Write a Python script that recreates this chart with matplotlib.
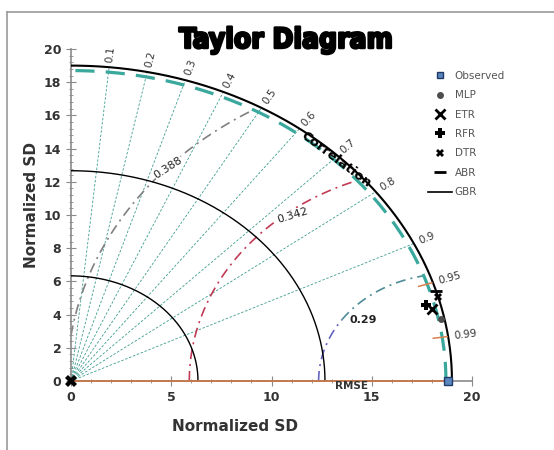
import numpy as np
import matplotlib.pyplot as plt
from matplotlib.lines import Line2D
from matplotlib.ticker import MultipleLocator
from matplotlib import font_manager
import matplotlib.patheffects as pe

# valores
obs_sd = 18.8
sd_arcs = [19 / 3, 2 * 19 / 3, 19.0]
teal_arc = 18.7
corr_lines = [0.1, 0.2, 0.3, 0.4, 0.5, 0.6, 0.7, 0.8, 0.9]
corr_labels = [0.1, 0.2, 0.3, 0.4, 0.5, 0.6, 0.7, 0.8, 0.9, 0.95, 0.99]
corr_marks = [0.95, 0.99]

rmse_names = ['0.29', '0.342', '0.388']
rmse_radius = [6.45, 12.9, 19.0]

models = ['MLP', 'ETR', 'RFR', 'DTR', 'ABR']
model_sd = [18.82, 18.50, 18.28, 18.98, 18.99]
model_corr = [0.980, 0.972, 0.968, 0.9635, 0.958]
origin_sd = [0.0]

fig = plt.figure(figsize=(5.54, 4.5), dpi=100)
ax = fig.add_axes([71 / 554, 69 / 450, 401 / 554, 332 / 450])
ax.set_xlim(0, 20)
ax.set_ylim(0, 20)

# moldura cinza da área do gráfico
fig.add_artist(Line2D([7 / 554, 1], [1 - 12 / 450, 1 - 12 / 450], color='#9a9a9a', lw=1.2, transform=fig.transFigure))
fig.add_artist(Line2D([7 / 554, 7 / 554], [0, 1 - 12 / 450], color='#9a9a9a', lw=1.2, transform=fig.transFigure))

th = np.linspace(0, np.pi / 2, 300)

# linhas de correlação
for c in corr_lines:
    a = np.arccos(c)
    ax.plot([0, 19 * np.cos(a)], [0, 19 * np.sin(a)], color='#3d9c8f', lw=0.6, dashes=(3, 2), zorder=2)

# arcos de desvio padrão
for i, r in enumerate(sd_arcs):
    ax.plot(r * np.cos(th), r * np.sin(th), color='black', lw=1.5 if i == 2 else 1.0, zorder=3)
ax.plot(teal_arc * np.cos(th), teal_arc * np.sin(th), color='#3aa89c', lw=2.3, dashes=(6, 3.5), zorder=3)

# arcos de RMSE, centrados no observado
rmse_colors = [('#6464bf', '#4f8c97'), ('#c23a55', '#c23a55'), ('#808080', '#808080')]
for r, (c1, c2) in zip(rmse_radius, rmse_colors):
    xi = (teal_arc ** 2 + obs_sd ** 2 - r ** 2) / (2 * obs_sd)
    yi = np.sqrt(max(teal_arc ** 2 - xi ** 2, 0))
    a_end = np.arctan2(yi, xi - obs_sd)
    a_start = np.pi
    if obs_sd - r < 0:
        a_start = np.pi - np.arccos(obs_sd / r)
    a_mid = np.radians(145) if r < 8 else a_start
    seg1 = np.linspace(a_start, a_mid, 60)
    seg2 = np.linspace(a_mid, a_end, 200)
    for seg, col in [(seg1, c1), (seg2, c2)]:
        ax.plot(obs_sd + r * np.cos(seg), r * np.sin(seg), color=col, lw=1.2,
                dashes=(6, 3, 1.2, 3), zorder=2)

ax.text(4.85, 12.85, rmse_names[2], rotation=33, fontsize=8, color='#222', ha='center', va='center',
        bbox=dict(fc='white', ec='none', pad=0.3), zorder=4)
ax.text(11.05, 9.97, rmse_names[1], rotation=17, fontsize=8, color='#222', ha='center', va='center',
        bbox=dict(fc='white', ec='none', pad=0.3), zorder=4)
ax.text(14.6, 3.65, rmse_names[0], fontsize=8, color='#222', fontweight='bold', ha='center', va='center', zorder=4)
ax.text(14.0, -0.28, 'RMSE', fontsize=7.5, color='#333', fontweight='bold', ha='center', va='center', zorder=6)

# rótulos de correlação
for c in corr_labels:
    a = np.arccos(c)
    ax.text(19.3 * np.cos(a), 19.3 * np.sin(a), f'{c:g}', rotation=np.degrees(a), rotation_mode='anchor',
            transform_rotates_text=True, ha='left', va='center', fontsize=7.5, color='#333', clip_on=False)
for c in corr_marks:
    a = np.arccos(c)
    ax.plot([18.25 * np.cos(a), 18.95 * np.cos(a)], [18.25 * np.sin(a), 18.95 * np.sin(a)],
            color='#d9804f', lw=1.1, zorder=4)

ax.text(13.2, 13.35, 'Correlation', rotation=-37, rotation_mode='anchor', ha='center', va='center',
        fontsize=9.5, fontweight='bold', color='black', zorder=5)

# eixo x = correlação 1
ax.plot([0, obs_sd], [0, 0], color='#c8784a', lw=1.3, zorder=4, clip_on=False)

# pontos dos modelos
styles = {
    'MLP': dict(marker='o', ms=5, color='#4d4d4d', mew=0),
    'ETR': dict(marker='x', ms=7, color='black', mew=2),
    'RFR': dict(marker='P', ms=7, color='black', mew=0),
    'DTR': dict(marker='X', ms=6, color='black', mew=0),
    'ABR': dict(marker='_', ms=8, color='black', mew=2),
}
for name, sd, cc in zip(models, model_sd, model_corr):
    a = np.arccos(cc)
    ax.plot(sd * np.cos(a), sd * np.sin(a), ls='none', zorder=6, **styles[name])
ax.plot([obs_sd], [0], marker='s', ms=6, mfc='#5a86c0', mec='#1f3a66', ls='none', zorder=7, clip_on=False)
ax.plot(origin_sd, origin_sd, marker='X', ms=9, color='black', mew=0, ls='none', zorder=7, clip_on=False)

# eixos
for s in ['top', 'right']:
    ax.spines[s].set_visible(False)
for s in ['left', 'bottom']:
    ax.spines[s].set_color('#8a8a8a')
    ax.spines[s].set_linewidth(1.2)
ax.xaxis.set_major_locator(MultipleLocator(5))
ax.xaxis.set_minor_locator(MultipleLocator(1))
ax.yaxis.set_major_locator(MultipleLocator(2))
ax.yaxis.set_minor_locator(MultipleLocator(0.4))
ax.tick_params(which='major', direction='inout', length=7, color='#8a8a8a', labelsize=9, labelcolor='#333')
ax.tick_params(which='minor', direction='inout', length=3.5, color='#8a8a8a')
ax.tick_params(axis='x', pad=4)
for lab in ax.get_xticklabels() + ax.get_yticklabels():
    lab.set_fontweight('bold')

ax.set_xlabel('Normalized SD', fontsize=11, fontweight='bold', color='#333')
ax.set_ylabel('Normalized SD', fontsize=11, fontweight='bold', color='#333')
ax.xaxis.set_label_coords(0.41, -0.115)
ax.yaxis.set_label_coords(-0.08, 0.53)

# legenda
handles = [Line2D([], [], marker='s', ms=5, mfc='#5a86c0', mec='#1f3a66', ls='none')]
for name in models:
    handles.append(Line2D([], [], ls='none', **styles[name]))
handles.append(Line2D([], [], color='black', lw=1.2))
ax.legend(handles, ['Observed'] + models + ['GBR'], loc='upper left', bbox_to_anchor=(428 / 554, 1 - 71 / 450),
          bbox_transform=fig.transFigure, frameon=False, fontsize=7.5, labelcolor='#555',
          handlelength=2.3, handletextpad=0.25, labelspacing=0.9, borderpad=0, borderaxespad=0)

# título: fonte estreita se existir, tamanho ajustado à largura do original
title_fp = None
wanted = ['LiberationSansNarrow-Bold.ttf', 'DejaVuSansCondensed-Bold.ttf', 'DejaVuSerifCondensed-Bold.ttf']
found = {f.split('/')[-1]: f for f in font_manager.findSystemFonts()}
for w in wanted:
    if w in found:
        title_fp = font_manager.FontProperties(fname=found[w])
        break
if title_fp is None:
    title_fp = font_manager.FontProperties(family='DejaVu Sans', weight='bold')
title_fp.set_size(24)
title = fig.text(286 / 554, 1 - 48 / 450, 'Taylor Diagram', ha='center', va='baseline',
                 fontproperties=title_fp, color='black',
                 path_effects=[pe.withStroke(linewidth=1.8, foreground='black')])
r = fig.canvas.get_renderer()
wpx = title.get_window_extent(r).width
title_fp.set_size(min(24 * 214 / wpx, 30))
title.set_fontproperties(title_fp)

fig.savefig('out.png', dpi=100)
